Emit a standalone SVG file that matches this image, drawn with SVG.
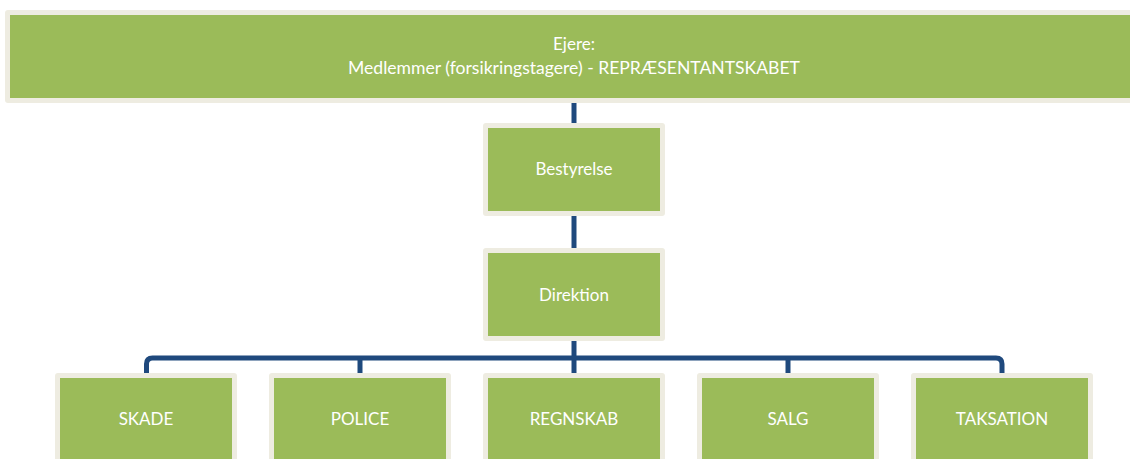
<svg xmlns="http://www.w3.org/2000/svg" width="1130" height="459" viewBox="0 0 1130 459">
<style>
.frame{fill:#EEECE1}
.box{fill:#9BBB59}
.lbl{font-family:Lato,"Open Sans",sans-serif;font-size:17px;fill:#FFFFFF;text-anchor:middle}
.conn{fill:none;stroke:#1F497D;stroke-width:5;stroke-linejoin:round}
</style>
<rect width="1130" height="459" fill="#FFFFFF"/>
<g id="connectors">
<path class="conn" d="M574,101 V125"/>
<path class="conn" d="M574,214 V250"/>
<path class="conn" d="M574,339 V375"/>
<path class="conn" d="M146.5,375 V364 Q146.5,358 152.5,358 H996 Q1002,358 1002,364 V375"/>
<path class="conn" d="M360,358 V375"/>
<path class="conn" d="M788,358 V375"/>
</g>
<g id="owners">
<rect class="frame" x="5" y="10" width="1140" height="93" rx="3"/>
<rect class="box" x="10" y="15" width="1140" height="83"/>
<text class="lbl" x="574" y="50">Ejere:</text>
<text class="lbl" x="574" y="74" textLength="452" lengthAdjust="spacingAndGlyphs">Medlemmer (forsikringstagere) - REPRÆSENTANTSKABET</text>
</g>
<g id="bestyrelse">
<rect class="frame" x="483" y="123" width="182" height="93" rx="3"/>
<rect class="box" x="488" y="128" width="172" height="83"/>
<text class="lbl" x="574" y="175">Bestyrelse</text>
</g>
<g id="direktion">
<rect class="frame" x="483" y="248" width="182" height="93" rx="3"/>
<rect class="box" x="488" y="253" width="172" height="83"/>
<text class="lbl" x="574" y="301">Direktion</text>
</g>
<g id="skade">
<rect class="frame" x="55" y="373" width="182" height="100" rx="3"/>
<rect class="box" x="60" y="378" width="172" height="90"/>
<text class="lbl" x="146" y="425">SKADE</text>
</g>
<g id="police">
<rect class="frame" x="269" y="373" width="182" height="100" rx="3"/>
<rect class="box" x="274" y="378" width="172" height="90"/>
<text class="lbl" x="360" y="425">POLICE</text>
</g>
<g id="regnskab">
<rect class="frame" x="483" y="373" width="182" height="100" rx="3"/>
<rect class="box" x="488" y="378" width="172" height="90"/>
<text class="lbl" x="574" y="425">REGNSKAB</text>
</g>
<g id="salg">
<rect class="frame" x="697" y="373" width="182" height="100" rx="3"/>
<rect class="box" x="702" y="378" width="172" height="90"/>
<text class="lbl" x="788" y="425">SALG</text>
</g>
<g id="taksation">
<rect class="frame" x="911" y="373" width="182" height="100" rx="3"/>
<rect class="box" x="916" y="378" width="172" height="90"/>
<text class="lbl" x="1002" y="425">TAKSATION</text>
</g>
</svg>
